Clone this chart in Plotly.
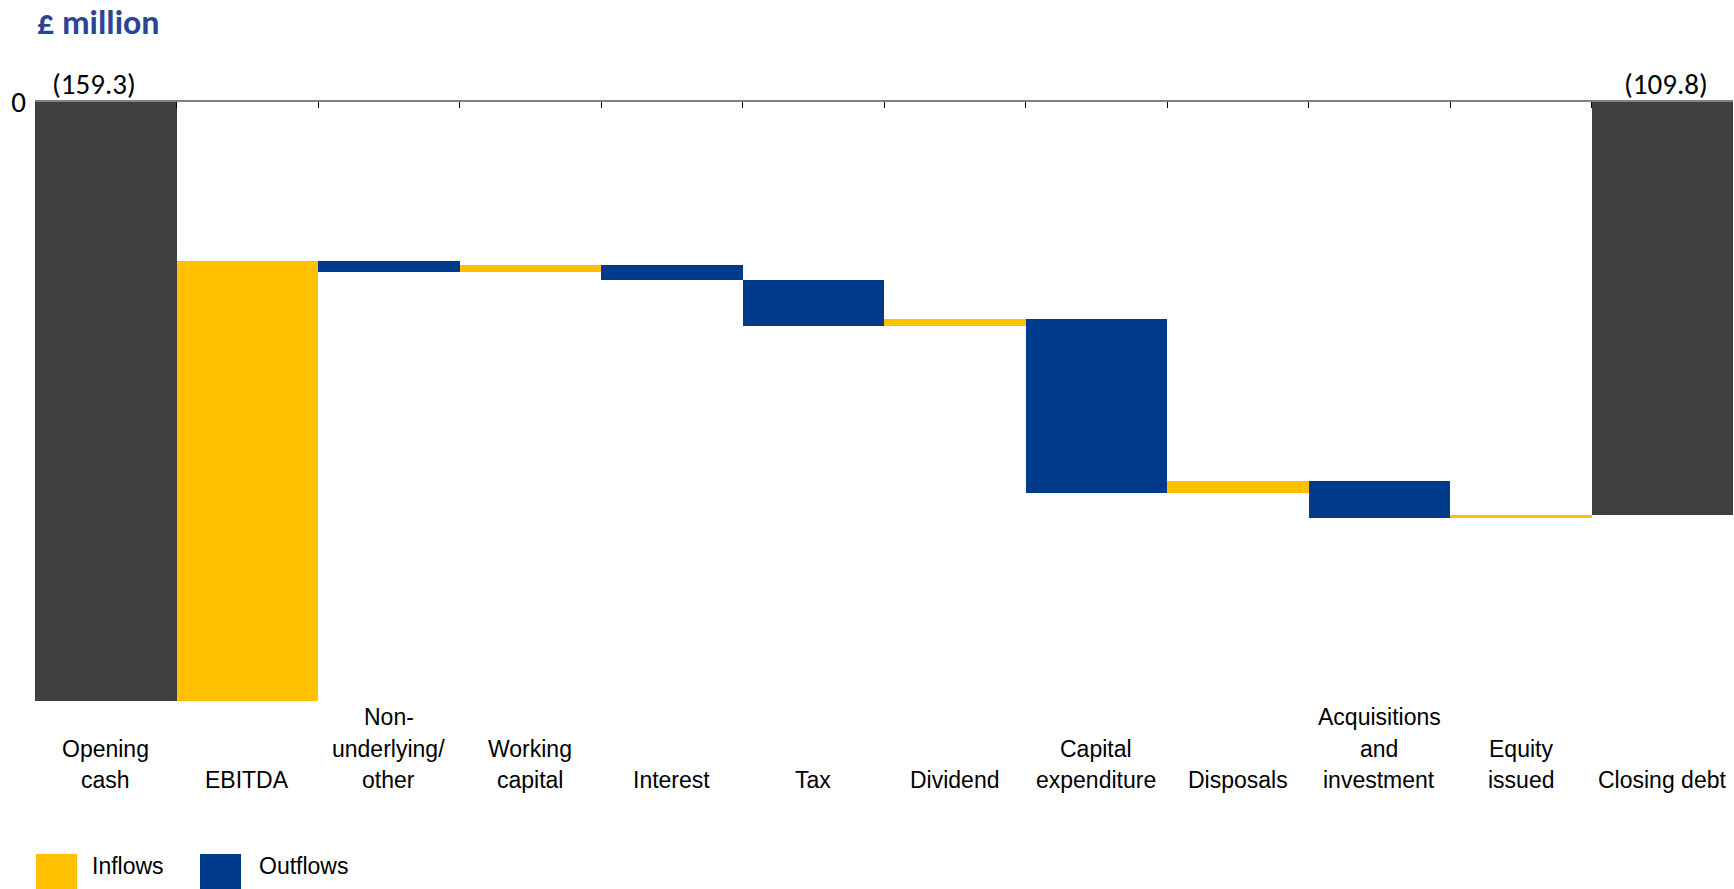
import plotly.graph_objects as go

# ---- data ----
categories = ["Opening<br>cash", "EBITDA", "Non-<br>underlying/<br>other", "Working<br>capital",
              "Interest", "Tax", "Dividend", "Capital<br>expenditure", "Disposals",
              "Acquisitions<br>and<br>investment", "Equity<br>issued", "Closing debt"]
kinds = ["total", "in", "out", "in", "out", "out", "in", "out", "in", "out", "in", "total"]
# movements in £ million (positive = increases net debt / moves down the chart)
opening = 159.3
closing = 109.8
movements = [None, -117.0, 2.8, -1.7, 4.0, 12.2, -1.8, 46.3, -3.2, 9.6, -0.7, None]
total_labels = ["(159.3)", "(109.8)"]

COL = {"total": "#404040", "in": "#FFC000", "out": "#003A8A"}

W, H = 1734, 889
ML, MR, MT, MB = 35, 1, 102, 188
PW, PH = W - ML - MR, H - MT - MB

def px_x(p):
    return (p - ML) / PW

def px_y(p):
    return (H - MB - p) / PH

# compute bar bases/lengths
bases, lengths, colors = [], [], []
level = opening
for k, m in zip(kinds, movements):
    if k == "total":
        val = opening if not bases else closing
        bases.append(0)
        lengths.append(val)
        level = val
    else:
        new = level + m
        bases.append(min(level, new))
        lengths.append(abs(m))
        level = new
    colors.append(COL[k])

xs = list(range(len(categories)))

fig = go.Figure()
fig.add_trace(go.Bar(x=xs, y=lengths, base=bases, marker=dict(color=colors, line=dict(width=0)),
                     width=1.0, showlegend=False, hoverinfo="skip"))

font_lbl = "Liberation Sans Narrow, Arial Narrow, Liberation Sans, Arial, sans-serif"
font_num = "Carlito, Liberation Sans, Arial, sans-serif"

annotations = []
# category labels (bottom aligned, one annotation per line for spacing control)
LINE = 31.5
BOTTOM_CENTER = 780
for i, c in enumerate(categories):
    lines = c.split("<br>")
    n = len(lines)
    for j, ln in enumerate(lines):
        yc = BOTTOM_CENTER - (n - 1 - j) * LINE
        annotations.append(dict(x=i, xref="x", y=px_y(yc), yref="paper", text=ln, showarrow=False,
                                yanchor="middle", xanchor="center",
                                font=dict(family=font_lbl, size=23, color="#000000")))
# total labels
for i, t, sh in zip([0, len(categories) - 1], total_labels, [-12, 4]):
    annotations.append(dict(x=i, xref="x", y=px_y(84), yref="paper", text=t, showarrow=False,
                            yanchor="middle", xanchor="center", xshift=sh,
                            font=dict(family=font_num, size=29, color="#000000")))
# title
annotations.append(dict(x=px_x(35), xref="paper", y=px_y(22), yref="paper", text="<b>£ million</b>",
                        showarrow=False, xanchor="left", yanchor="middle",
                        font=dict(family=font_num, size=34, color="#2E4593")))
# legend
shapes = []
leg = [("Inflows", COL["in"], 36, 90), ("Outflows", COL["out"], 200, 257)]
for name, col, x0, tx in leg:
    shapes.append(dict(type="rect", xref="paper", yref="paper", x0=px_x(x0), x1=px_x(x0 + 41),
                       y0=px_y(854), y1=px_y(892), fillcolor=col, line=dict(width=0), layer="above"))
    annotations.append(dict(x=px_x(tx), xref="paper", y=px_y(866), yref="paper", text=name, showarrow=False,
                            xanchor="left", yanchor="middle",
                            font=dict(family=font_lbl, size=23, color="#000000")))

fig.update_layout(
    width=W, height=H,
    margin=dict(l=ML, r=MR, t=MT, b=MB),
    paper_bgcolor="white", plot_bgcolor="white",
    bargap=0,
    annotations=annotations, shapes=shapes,
    xaxis=dict(range=[-0.5, len(categories) - 0.5], side="top", showline=True, linecolor="#808080",
               linewidth=2, ticks="inside", ticklen=6, tickcolor="#000000", tickwidth=1,
               tickmode="array", tickvals=[i + 0.5 for i in range(len(categories) - 1)],
               showticklabels=False, showgrid=False, zeroline=False, type="linear"),
    yaxis=dict(range=[opening, 0], tickmode="array", tickvals=[0], ticktext=["0"], showgrid=False,
               zeroline=False, showline=False, ticks="", ticklabelstandoff=8,
               tickfont=dict(family=font_num, size=29, color="#000000")),
)

fig.write_html("out.html")
